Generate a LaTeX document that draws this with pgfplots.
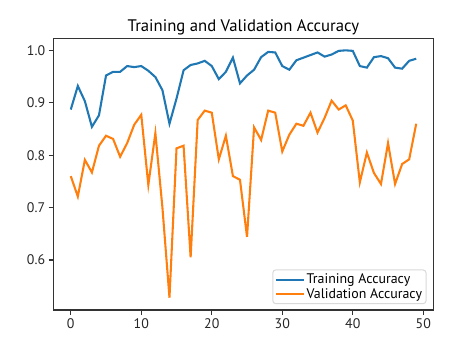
\documentclass[border=0pt]{standalone}
\usepackage{fontspec}
\setmainfont{PT Sans}
\usepackage{pgfplots}
\pgfplotsset{compat=1.18}
\definecolor{mplblue}{HTML}{1F77B4}
\definecolor{mplorange}{HTML}{FF7F0E}
\definecolor{spine}{HTML}{333333}
\begin{document}
\begin{tikzpicture}
\useasboundingbox (0,0) rectangle (467pt,353pt);
\begin{axis}[
  at={(53.5pt,43pt)}, anchor=south west,
  scale only axis, width=380pt, height=271.5pt,
  xmin=-2.45, xmax=51.45, ymin=0.5045, ymax=1.0226,
  xtick={0,10,...,50}, ytick={0.6,0.7,0.8,0.9,1.0},
  yticklabel style={/pgf/number format/.cd, fixed, fixed zerofill, precision=1},
  /pgf/number format/assume math mode=true,
  tick label style={font=\fontsize{13.9}{16}\selectfont, text=black!85},
  tick align=outside, major tick length=4.86pt,
  tick style={spine, line width=1.1pt},
  xtick pos=bottom, ytick pos=left,
  axis line style={spine, line width=1.1pt},
  title={Training and Validation Accuracy},
  title style={font=\fontsize{16.7}{19}\selectfont, yshift=-6pt},
  legend style={font=\fontsize{13.9}{16}\selectfont, draw=black!15, line width=1pt, rounded corners=3pt, fill=white, fill opacity=0.8, text opacity=1, draw opacity=1, at={(0.9816,0.0214)}, anchor=south east, inner sep=2pt, row sep=-1pt},
  legend cell align=left,
  legend image code/.code={\draw[#1, line width=2.08pt] (0pt,0pt) -- (27.8pt,0pt);},
]
\addplot[mplblue, line width=2.08pt] coordinates {
(0,0.887)(1,0.932)(2,0.903)(3,0.854)(4,0.876)(5,0.952)(6,0.959)(7,0.959)(8,0.970)(9,0.968)
(10,0.970)(11,0.961)(12,0.949)(13,0.924)(14,0.860)(15,0.908)(16,0.962)(17,0.972)(18,0.975)(19,0.980)
(20,0.970)(21,0.945)(22,0.959)(23,0.986)(24,0.937)(25,0.952)(26,0.963)(27,0.987)(28,0.997)(29,0.996)
(30,0.970)(31,0.963)(32,0.981)(33,0.986)(34,0.991)(35,0.996)(36,0.988)(37,0.992)(38,0.999)(39,1.000)
(40,0.999)(41,0.970)(42,0.967)(43,0.987)(44,0.989)(45,0.985)(46,0.967)(47,0.965)(48,0.980)(49,0.984)
};
\addlegendentry{Training Accuracy}
\addplot[mplorange, line width=2.08pt] coordinates {
(0,0.760)(1,0.721)(2,0.791)(3,0.767)(4,0.818)(5,0.837)(6,0.831)(7,0.797)(8,0.823)(9,0.858)
(10,0.877)(11,0.743)(12,0.842)(13,0.700)(14,0.528)(15,0.813)(16,0.818)(17,0.605)(18,0.867)(19,0.885)
(20,0.881)(21,0.792)(22,0.837)(23,0.760)(24,0.753)(25,0.644)(26,0.853)(27,0.829)(28,0.885)(29,0.881)
(30,0.807)(31,0.839)(32,0.860)(33,0.856)(34,0.881)(35,0.843)(36,0.871)(37,0.904)(38,0.887)(39,0.895)
(40,0.866)(41,0.748)(42,0.805)(43,0.766)(44,0.745)(45,0.823)(46,0.745)(47,0.783)(48,0.792)(49,0.860)
};
\addlegendentry{Validation Accuracy}
\end{axis}
\end{tikzpicture}
\end{document}
